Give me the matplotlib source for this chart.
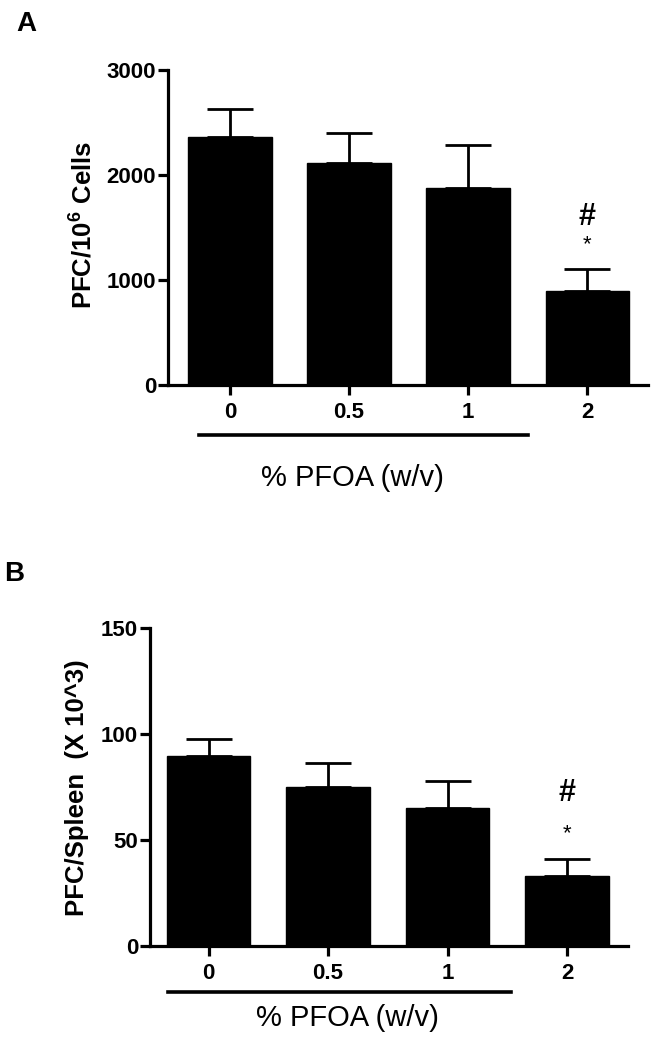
"""
Plaque forming cells (PFC) vs % PFOA: two bar panels (A and B) with SEM bars.
"""

import matplotlib
matplotlib.use("Agg")
import matplotlib.pyplot as plt
import matplotlib.transforms as mtransforms

plt.rcParams['font.family'] = ['Liberation Sans', 'DejaVu Sans']
plt.rcParams['mathtext.fontset'] = 'custom'
plt.rcParams['mathtext.rm'] = 'Liberation Sans'
plt.rcParams['mathtext.bf'] = 'Liberation Sans:bold'

# Datos
doses = ['0', '0.5', '1', '2']

pfc_cells = [2360, 2110, 1875, 895]
pfc_cells_err = [265, 290, 410, 210]
cells_ticks = [0, 1000, 2000, 3000]

pfc_spleen = [89.6, 75, 65, 33]
pfc_spleen_err = [8.0, 11.5, 12.8, 8.0]
spleen_ticks = [0, 50, 100, 150]

# marcas de significancia sobre la ultima barra (offset sobre la barra de error)
sig_hash = '#'
sig_star = '*'


def panel(ax, values, errors, ticks, ylabel, offs, line_span, lab_pos,
          ylab_pos, line_y):
    x = list(range(len(doses)))
    ax.bar(x, values, width=0.70, color='black', edgecolor='black')
    ax.errorbar(x, values, yerr=[[0] * len(errors), errors], fmt='none',
                ecolor='black', elinewidth=2.0, capsize=16.5, capthick=2.0)

    ax.set_ylim(ticks[0], ticks[-1])
    ax.set_yticks(ticks)
    ax.set_xticks(x)
    ax.set_xticklabels(doses)
    for s in ['top', 'right']:
        ax.spines[s].set_visible(False)
    for s in ['left', 'bottom']:
        ax.spines[s].set_linewidth(2.3)
    ax.tick_params(axis='both', width=2.3, length=7.5, labelsize=16)
    ax.tick_params(axis='y', pad=1)
    ax.tick_params(axis='x', pad=5)
    for lab in ax.get_xticklabels() + ax.get_yticklabels():
        lab.set_fontweight('bold')

    # simbolos de significancia
    top = values[-1] + errors[-1]
    ax.text(x[-1], top + offs[1], sig_star, ha='center', va='center', fontsize=16)
    ax.text(x[-1], top + offs[0], sig_hash, ha='center', va='center',
            fontsize=22, fontweight='bold')

    # linea bajo las etiquetas y titulo del eje x
    trans = mtransforms.blended_transform_factory(ax.transData, ax.transAxes)
    ax.plot(line_span, [line_y, line_y], color='black', lw=2.6,
            transform=trans, clip_on=False)
    ax.text(lab_pos[0], lab_pos[1], '% PFOA (w/v)', transform=trans,
            ha='center', va='center', fontsize=21)

    ax.text(ylab_pos[0], ylab_pos[1], ylabel, transform=ax.transAxes,
            rotation=90, ha='center', va='center', fontsize=18.5,
            fontweight='bold')
    return ax


fig = plt.figure(figsize=(6.54, 10.5), dpi=100)
W, H = 654, 1050

ax_a = fig.add_axes([168 / W, 665 / H, 480 / W, 315 / H])
ax_a.set_xlim(-0.52, 3.51)
panel(ax_a, pfc_cells, pfc_cells_err, cells_ticks,
      r'PFC/10$^\mathbf{6}$ Cells', (495, 230),
      [-0.26, 2.50], (1.03, -0.295), (-0.179, 0.508), -0.159)

ax_b = fig.add_axes([150 / W, 104 / H, 478 / W, 318 / H])
ax_b.set_xlim(-0.49, 3.51)
panel(ax_b, pfc_spleen, pfc_spleen_err, spleen_ticks,
      'PFC/Spleen  (X 10^3)', (31, 12),
      [-0.34, 2.53], (1.16, -0.226), (-0.153, 0.497), -0.145)

fig.text(26 / W, 1 - 24 / H, 'A', ha='center', va='center', fontsize=20,
         fontweight='bold')
fig.text(14 / W, 1 - 574 / H, 'B', ha='center', va='center', fontsize=20,
         fontweight='bold')

fig.savefig('out.png', dpi=100)
